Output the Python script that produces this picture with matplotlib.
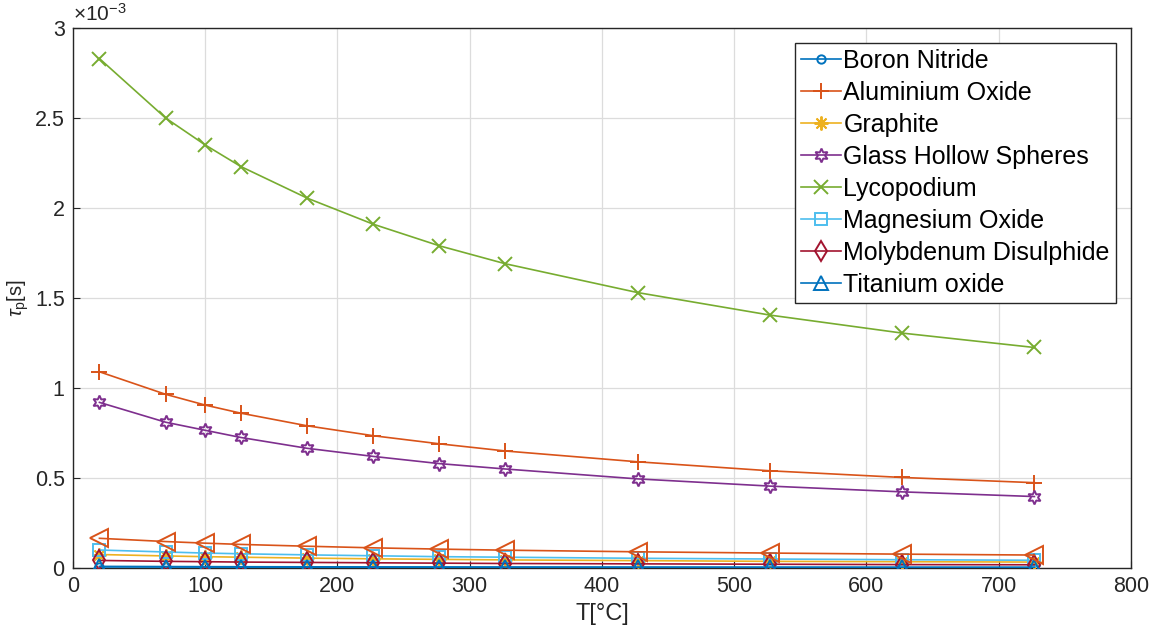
import matplotlib
matplotlib.use("Agg")
import matplotlib.pyplot as plt
from matplotlib.ticker import FuncFormatter, MultipleLocator

plt.rcParams['font.family'] = ['Liberation Sans', 'DejaVu Sans']
plt.rcParams['mathtext.fontset'] = 'custom'
plt.rcParams['mathtext.rm'] = 'Liberation Sans'
plt.rcParams['mathtext.it'] = 'Liberation Sans:italic'

T = [20, 70, 100, 127, 177, 227, 277, 327, 427, 527, 627, 727]

boron_nitride = [0.006, 0.0055, 0.005, 0.005, 0.0045, 0.0042, 0.004, 0.0038, 0.0035, 0.0032, 0.003, 0.0028]
aluminium_oxide = [1.09, 0.965, 0.905, 0.86, 0.79, 0.735, 0.69, 0.65, 0.59, 0.54, 0.503, 0.474]
graphite = [0.075, 0.067, 0.063, 0.060, 0.055, 0.051, 0.048, 0.045, 0.041, 0.037, 0.035, 0.033]
glass_hollow = [0.92, 0.81, 0.765, 0.725, 0.665, 0.62, 0.58, 0.55, 0.495, 0.455, 0.423, 0.397]
lycopodium = [2.83, 2.50, 2.35, 2.23, 2.055, 1.91, 1.79, 1.69, 1.53, 1.405, 1.305, 1.225]
magnesium_oxide = [0.100, 0.089, 0.083, 0.079, 0.073, 0.068, 0.063, 0.060, 0.054, 0.050, 0.046, 0.043]
molybdenum = [0.042, 0.037, 0.035, 0.033, 0.031, 0.029, 0.027, 0.025, 0.023, 0.021, 0.019, 0.018]
titanium_oxide = [0.009, 0.008, 0.0075, 0.0071, 0.0066, 0.0061, 0.0057, 0.0054, 0.0049, 0.0045, 0.0041, 0.0039]
extra_series = [0.165, 0.147, 0.138, 0.131, 0.121, 0.112, 0.105, 0.099, 0.090, 0.083, 0.077, 0.072]

labels = ['Boron Nitride', 'Aluminium Oxide', 'Graphite', 'Glass Hollow Spheres',
          'Lycopodium', 'Magnesium Oxide', 'Molybdenum Disulphide', 'Titanium oxide']
series = [boron_nitride, aluminium_oxide, graphite, glass_hollow, lycopodium,
          magnesium_oxide, molybdenum, titanium_oxide, extra_series]
markers = ['o', '+', (8, 2, 0), (6, 1, 0), 'x', 's', 'd', '^', '<']
msizes = [6, 11, 10, 10, 10, 8, 10, 10, 13]
colors = [(0, 0.447, 0.741), (0.85, 0.325, 0.098), (0.929, 0.694, 0.125),
          (0.494, 0.184, 0.556), (0.466, 0.674, 0.188), (0.301, 0.745, 0.933),
          (0.635, 0.078, 0.184), (0, 0.447, 0.741), (0.85, 0.325, 0.098)]

fig = plt.figure(figsize=(11.68, 6.30), dpi=100)
ax = fig.add_axes([0.0625, 0.0984, 0.9058, 0.8572])

for i, ys in enumerate(series):
    lab = labels[i] if i < len(labels) else '_nolegend_'
    ax.plot(T, [v * 1e-3 for v in ys], marker=markers[i], color=colors[i],
            markerfacecolor='none', markeredgecolor=colors[i], markersize=msizes[i],
            markeredgewidth=1.4, linewidth=1.2, label=lab, zorder=3 + i)

ax.set_xlim(0, 800)
ax.set_ylim(0, 3e-3)
ax.xaxis.set_major_locator(MultipleLocator(100))
ax.yaxis.set_major_locator(MultipleLocator(0.5e-3))
ax.yaxis.set_major_formatter(FuncFormatter(lambda v, p: ('%g' % round(v * 1e3, 3))))
ax.text(0.0, 1.005, r'$\times 10^{-3}$', transform=ax.transAxes, fontsize=15,
        color='#262626', ha='left', va='bottom')

ax.grid(True, color='#dcdcdc', linewidth=0.9)
ax.set_axisbelow(True)
for sp in ax.spines.values():
    sp.set_color('#262626')
    sp.set_linewidth(1.0)
ax.tick_params(direction='in', labelsize=15.5, colors='#262626', length=5, pad=6)

ax.set_xlabel('T[°C]', fontsize=17, color='#262626', labelpad=4)
ax.set_ylabel(r'$\tau_{\rm p}$[s]', fontsize=14.5, color='#262626', labelpad=3)

leg = ax.legend(loc='upper right', fontsize=18, frameon=True, fancybox=False,
                edgecolor='#262626', framealpha=1, handlelength=1.6,
                handletextpad=0.1, borderpad=0.25, labelspacing=0.32,
                borderaxespad=0.6)
leg.get_frame().set_linewidth(1.0)

fig.savefig('out.png', dpi=100)
